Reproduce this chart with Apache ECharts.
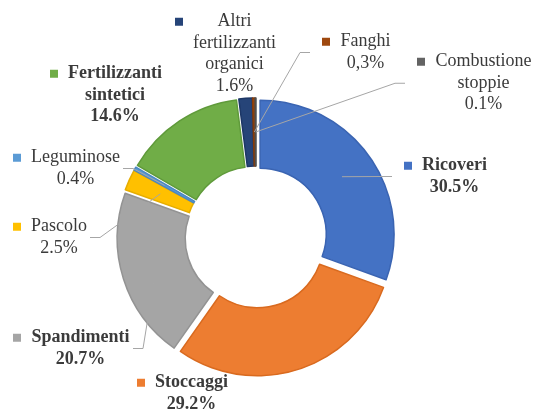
<!DOCTYPE html>
<html><head><meta charset="utf-8">
<script src="https://cdn.jsdelivr.net/npm/echarts@6/dist/echarts.min.js"></script>
<style>html,body{margin:0;padding:0;background:#fff}#c{width:537px;height:410px}</style>
</head><body><div id="c"></div>
<script>
// ---- data ----
const categories = ['Ricoveri', 'Stoccaggi', 'Spandimenti', 'Pascolo', 'Leguminose',
  'Fertilizzanti\nsintetici', 'Altri\nfertilizzanti\norganici', 'Fanghi', 'Combustione\nstoppie'];
const shares = [30.5, 29.2, 20.7, 2.5, 0.4, 14.6, 1.6, 0.3, 0.1];
const decimalSeparators = ['.', '.', '.', '.', '.', '.', '.', ',', '.'];

// ---- styling / layout (not data) ----
const boldLabels = [true, true, true, false, false, true, false, false, false];
const leaderLines = [true, false, true, true, true, false, false, true, true];
const colors = ['#4472C4', '#ED7D31', '#A5A5A5', '#FFC000', '#5B9BD5', '#70AD47', '#264478', '#9E480E', '#636363'];
const borderColors = ['#3A64B2', '#D96A1F', '#939393', '#E6AD00', '#4A88C2', '#5F9A3A', '#1D3766', '#843B0A', '#4F4F4F'];
const labelAnchors = [[404, 155], [137, 372], [13, 327], [13, 216], [13, 147], [50, 63], [175, 11], [322, 31], [417, 51]];
const FONT = 'Liberation Serif, DejaVu Serif, serif';
const FS = 18, LH = 21.5, MARK = 8, GAP = 9;
const CENTER = [256, 237], RADIUS = [66, 134], EXPLODE = 5;

const ctx = document.createElement('canvas').getContext('2d');
function textWidth(s, bold) {
  ctx.font = (bold ? 'bold ' : '') + FS + 'px ' + FONT;
  return ctx.measureText(s).width;
}

const sectorData = categories.map((name, i) => ({
  name: name.replace(/\n/g, ' '),
  value: shares[i],
  selected: true,
  itemStyle: { color: colors[i], borderColor: borderColors[i] }
}));

const labelData = categories.map((name, i) => {
  const pct = shares[i].toFixed(1).replace('.', decimalSeparators[i]) + '%';
  const lines = name.split('\n').concat([pct]);
  const w = Math.ceil(Math.max(...lines.map(l => textWidth(l, boldLabels[i])))) + 2;
  const fmt = lines.map((l, k) => (k === 0 ? '{mk|}{gp|}' : '{pd|}') + '{t|' + l + '}').join('\n');
  return {
    name: name.replace(/\n/g, ' '),
    value: shares[i],
    label: {
      formatter: fmt,
      rich: {
        mk: { width: MARK, height: MARK, backgroundColor: colors[i] },
        gp: { width: GAP },
        pd: { width: MARK + GAP },
        t: { width: w, align: 'center', fontFamily: FONT, fontSize: FS, lineHeight: LH,
             fontWeight: boldLabels[i] ? 'bold' : 'normal', color: '#3b3b3b' }
      }
    },
    labelLine: { show: leaderLines[i] }
  };
});

const chart = echarts.init(document.getElementById('c'), null, { renderer: 'canvas' });
chart.setOption({
  animation: false,
  backgroundColor: '#fff',
  series: [{
    type: 'pie',
    center: CENTER,
    radius: RADIUS,
    startAngle: 90,
    clockwise: true,
    selectedMode: 'multiple',
    selectedOffset: EXPLODE,
    itemStyle: { borderWidth: 1.5 },
    emphasis: { disabled: true },
    select: { itemStyle: { borderWidth: 1.5 } },
    label: { show: false },
    labelLine: { show: false },
    data: sectorData
  }, {
    type: 'pie',
    center: CENTER,
    radius: RADIUS,
    startAngle: 90,
    clockwise: true,
    silent: true,
    z: 3,
    avoidLabelOverlap: false,
    itemStyle: { color: 'rgba(0,0,0,0)', borderWidth: 0 },
    emphasis: { disabled: true },
    label: { show: true, position: 'outside', fontFamily: FONT, fontSize: FS, lineHeight: LH, color: '#3b3b3b' },
    labelLine: { show: true, length: 10, length2: 10, lineStyle: { color: '#a6a6a6', width: 1 } },
    labelLayout: function (p) {
      const a = labelAnchors[p.dataIndex];
      const res = { x: a[0], y: a[1], align: 'left', verticalAlign: 'top' };
      const pts = p.labelLinePoints;
      if (leaderLines[p.dataIndex] && pts && pts.length) {
        // library anchor on the outer arc at the slice's mid-angle; pull it to mid-ring (+explode)
        const ox = pts[0][0] - CENTER[0], oy = pts[0][1] - CENTER[1];
        const len = Math.sqrt(ox * ox + oy * oy);
        const rMid = (RADIUS[0] + RADIUS[1]) / 2 + EXPLODE;
        const start = [CENTER[0] + ox / len * rMid, CENTER[1] + oy / len * rMid];
        const w = p.labelRect.width, h = p.labelRect.height;
        const midY = a[1] + h / 2;
        let end, elbow;
        if (a[0] > start[0]) {
          end = [a[0] - 12, midY];
          elbow = [end[0] - 10, midY];
        } else {
          end = [a[0] + w + 2, midY];
          elbow = [end[0] + 10, midY];
        }
        res.labelLinePoints = [start, elbow, end];
      }
      return res;
    },
    data: labelData
  }]
});
</script>
</body></html>
